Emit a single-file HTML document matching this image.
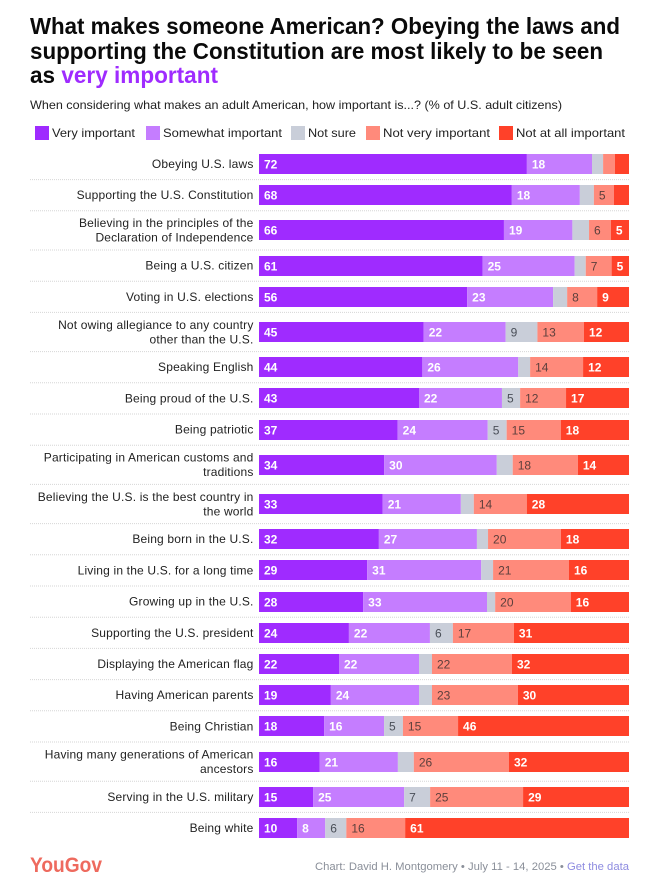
<!DOCTYPE html>
<html lang="en">
<head>
<meta charset="utf-8">
<title>What makes someone American?</title>
<style>
html,body{margin:0;padding:0;background:#fff}
body{width:649px;height:883px;overflow:hidden;font-family:"Liberation Sans",sans-serif}
svg{display:block}
text{font-family:"Liberation Sans",sans-serif}
</style>
</head>
<body>
<svg id="chart" width="649" height="883" viewBox="0 0 649 883" xmlns="http://www.w3.org/2000/svg">
  <rect x="0" y="0" width="649" height="883" fill="#ffffff"/>
  <g font-size="23" font-weight="700" fill="#0a0a0a">
    <text x="30" y="34" textLength="590" lengthAdjust="spacingAndGlyphs">What makes someone American? Obeying the laws and</text>
    <text x="30" y="59" textLength="573" lengthAdjust="spacingAndGlyphs">supporting the Constitution are most likely to be seen</text>
    <text x="30" y="83" textLength="188" lengthAdjust="spacingAndGlyphs">as <tspan fill="#9f2bff">very important</tspan></text>
  </g>
  <text x="30" y="109" font-size="12" fill="#222" textLength="532" lengthAdjust="spacingAndGlyphs">When considering what makes an adult American, how important is...? (% of U.S. adult citizens)</text>
  <g id="legend"></g>
  <g id="rows"></g>
  <text x="30" y="872" font-size="21" font-weight="700" fill="#ee6a5e" textLength="72" lengthAdjust="spacingAndGlyphs">YouGov</text>
  <text x="629" y="870" text-anchor="end" font-size="11" fill="#8a8f99" textLength="314" lengthAdjust="spacingAndGlyphs">Chart: David H. Montgomery • July 11 - 14, 2025 • <tspan fill="#8d8be0">Get the data</tspan></text>
</svg>
<script>
const seriesNames = ["Very important", "Somewhat important", "Not sure", "Not very important", "Not at all important"];
const seriesColors = ["#9f2bff", "#c57dff", "#c9ced9", "#ff8a7b", "#ff4129"];
const labelColors = ["#ffffff", "#ffffff", "#4a4f58", "#5c3f3c", "#ffffff"];
const legendSwatchX = [35, 146, 291, 366, 499];
const legendWidths = [83, 119, 48, 107, 109];

const categories = [
  ["Obeying U.S. laws"],
  ["Supporting the U.S. Constitution"],
  ["Believing in the principles of the", "Declaration of Independence"],
  ["Being a U.S. citizen"],
  ["Voting in U.S. elections"],
  ["Not owing allegiance to any country", "other than the U.S."],
  ["Speaking English"],
  ["Being proud of the U.S."],
  ["Being patriotic"],
  ["Participating in American customs and", "traditions"],
  ["Believing the U.S. is the best country in", "the world"],
  ["Being born in the U.S."],
  ["Living in the U.S. for a long time"],
  ["Growing up in the U.S."],
  ["Supporting the U.S. president"],
  ["Displaying the American flag"],
  ["Having American parents"],
  ["Being Christian"],
  ["Having many generations of American", "ancestors"],
  ["Serving in the U.S. military"],
  ["Being white"]
];
const veryImportant = [72.4,68.4,66.2,60.5,56.2,44.6,44.1,43.2,37.4,33.8,33.4,32.4,29.2,28.1,24.3,21.6,19.4,17.6,16.4,14.6,10.3];
const somewhatImportant = [17.6,18.4,18.5,24.9,23.2,22.2,25.9,22.4,24.3,30.4,21.1,26.5,30.8,33.4,21.9,21.6,23.8,16.2,21.1,24.6,7.6];
const notSure = [3.0,3.8,4.5,3.0,3.8,8.6,3.2,4.9,5.1,4.3,3.5,3.0,3.2,2.2,6.2,3.5,3.5,5.1,4.3,7.0,5.7];
const notVeryImportant = [3.2,5.4,5.9,7.0,8.1,12.6,14.3,12.4,14.6,17.6,14.3,19.7,20.5,20.4,16.5,21.6,23.2,14.9,25.7,25.1,15.9];
const notAtAllImportant = [3.8,4.1,4.9,4.7,8.6,12.2,12.4,17.0,18.4,13.8,27.6,18.4,16.2,15.7,31.1,31.6,30.0,46.2,32.4,28.6,60.5];
const seriesValues = [veryImportant, somewhatImportant, notSure, notVeryImportant, notAtAllImportant];

const NS = "http://www.w3.org/2000/svg";
const plotLeft = 259, plotRight = 629, labelRight = 253.5, ruleLeft = 30;
const firstRowTop = 148.4, oneLineRow = 31.2, twoLineRow = 39.2, barHeight = 20, minLabel = 4.6;

function make(tag, attrs, parent) {
  const el = document.createElementNS(NS, tag);
  for (const k in attrs) el.setAttribute(k, attrs[k]);
  parent.appendChild(el);
  return el;
}
function xScale(share) { return plotLeft + share * (plotRight - plotLeft); }
function slug(s) { return s.toLowerCase().replace(/[^a-z0-9]+/g, "-").replace(/^-|-$/g, ""); }

const legend = document.getElementById("legend");
seriesNames.forEach((name, i) => {
  const swatch = make("rect", {x: legendSwatchX[i], y: 126, width: 14, height: 14, fill: seriesColors[i]}, legend);
  
  
  const label = make("text", {x: legendSwatchX[i] + 17, y: 137, "font-size": 12, fill: "#222", textLength: legendWidths[i], lengthAdjust: "spacingAndGlyphs"}, legend);
  
  
  label.textContent = name;
});

const rows = document.getElementById("rows");
let rowTop = firstRowTop;
categories.forEach((lines, r) => {
  const rowH = lines.length > 1 ? twoLineRow : oneLineRow;
  const mid = rowTop + rowH / 2;
  const name = slug(lines.join(" "));

  const group = make("g", {}, rows);
  
  

  lines.forEach((line, j) => {
    const y = mid + 4 + (j - (lines.length - 1) / 2) * 14.5;
    const t = make("text", {x: labelRight, y: y, "text-anchor": "end", "font-size": 12, "letter-spacing": 0.17, fill: "#222"}, group);
    
    
    t.textContent = line;
  });

  const total = seriesValues.reduce((sum, s) => sum + s[r], 0);
  let cumulative = 0;
  const barTop = Math.round(mid - barHeight / 2);
  seriesValues.forEach((values, s) => {
    const v = values[r];
    const x0 = xScale(cumulative / total);
    const x1 = xScale((cumulative + v) / total);
    const bar = make("rect", {x: x0, y: barTop, width: x1 - x0, height: barHeight, fill: seriesColors[s]}, group);
    
    
    if (v >= minLabel) {
      const t = make("text", {x: x0 + 5, y: barTop + 14.3, "font-size": 12, "font-weight": (s === 0 || s === 1 || s === 4) ? 700 : 400, fill: labelColors[s]}, group);
      
      
      t.textContent = Math.round(v);
    }
    cumulative += v;
  });

  rowTop += rowH;
  if (r < categories.length - 1) {
    const rule = make("line", {x1: ruleLeft, x2: plotRight, y1: rowTop, y2: rowTop, stroke: "#d6d6d6", "stroke-width": 1, "stroke-dasharray": "1 1"}, group);
    
    
  }
});
</script>
</body>
</html>
